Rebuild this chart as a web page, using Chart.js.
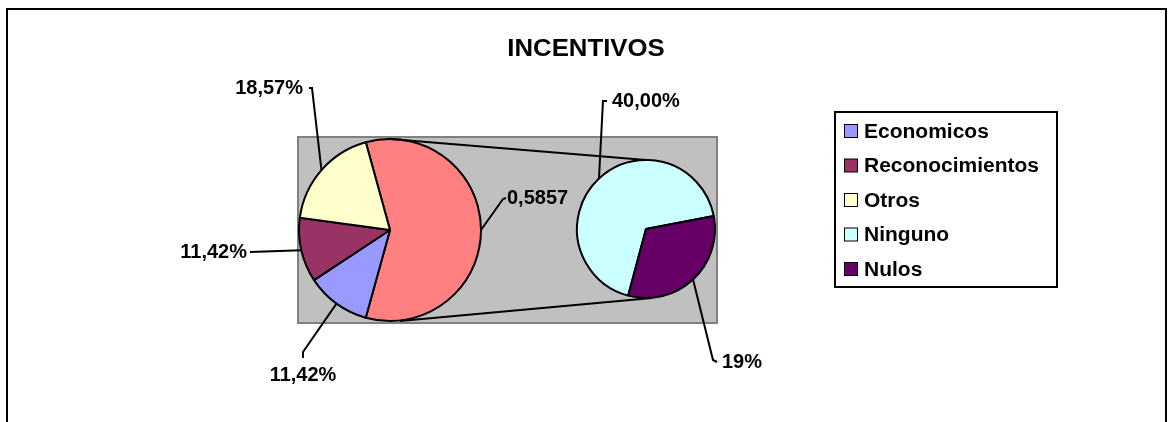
<!DOCTYPE html>
<html>
<head>
<meta charset="utf-8">
<script src="https://cdn.jsdelivr.net/npm/chart.js@4.4.0/dist/chart.umd.min.js"></script>
<style>
  body { margin: 0; background: #fff; }
  #wrap { position: relative; width: 1169px; height: 422px; }
  #wrap canvas { position: absolute; left: 0; top: 0; }
</style>
</head>
<body>
<div id="wrap">
  <canvas id="mainPie" width="1169" height="422"></canvas>
  <canvas id="subPie" width="1169" height="422"></canvas>
</div>
<script>
// data
const chartTitle = 'INCENTIVOS';
const mainCategories = ['Economicos', 'Reconocimientos', 'Otros'];
const mainValues = [0.1142, 0.1142, 0.1857];
const mainLabels = ['11,42%', '11,42%', '18,57%'];
const groupName = 'Resto';
const groupValue = 0.5857;
const groupLabel = '0,5857';
const subCategories = ['Ninguno', 'Nulos'];
const subValues = [0.40, 0.19];
const subLabels = ['40,00%', '19%'];

// colours
const mainColors = ['#9999FF', '#993366', '#FFFFCC'];
const groupColor = '#FF8080';
const subColors = ['#CCFFFF', '#660066'];

const FONT = '"Liberation Sans", Arial, sans-serif';

function txt(ctx, s, x, y, align, size, sx) {
    ctx.save();
    ctx.font = 'bold ' + size + 'px ' + FONT;
    ctx.fillStyle = '#000';
    ctx.textBaseline = 'middle';
    ctx.translate(x, y);
    ctx.scale(sx || 1, 1);
    ctx.textAlign = align;
    ctx.fillText(s, 0, 0);
    ctx.restore();
}

function leader(ctx, pts) {
    ctx.save();
    ctx.strokeStyle = '#000';
    ctx.lineWidth = 2;
    ctx.beginPath();
    ctx.moveTo(pts[0][0], pts[0][1]);
    for (let i = 1; i < pts.length; i++) ctx.lineTo(pts[i][0], pts[i][1]);
    ctx.stroke();
    ctx.restore();
}

// edge point of an arc at its middle angle
function edgeOf(arc) {
    const a = (arc.startAngle + arc.endAngle) / 2;
    return [arc.x + Math.cos(a) * arc.outerRadius, arc.y + Math.sin(a) * arc.outerRadius];
}

// where labels sit: [text x, text y, align, bend x, bend y]
const mainLabelPos = [
    [303, 375, 'center', 303, 352],   // Economicos
    [247, 252, 'right', 250, 252],    // Reconocimientos
    [303, 88, 'right', 312, 88]       // Otros
];
const groupLabelPos = [507, 198, 'left', 503, 199];
const subLabelPos = [
    [612, 101, 'left', 603, 101],     // Ninguno
    [722, 362, 'left', 713, 360]      // Nulos
];

const background = {
    id: 'background',
    beforeDraw(chart) {
        const ctx = chart.ctx;
        ctx.save();
        ctx.fillStyle = '#fff';
        ctx.fillRect(0, 0, chart.width, chart.height);
        // outer frame (open at the bottom)
        ctx.strokeStyle = '#000';
        ctx.lineWidth = 2;
        ctx.beginPath();
        ctx.moveTo(7, 422);
        ctx.lineTo(7, 9);
        ctx.lineTo(1166, 9);
        ctx.lineTo(1166, 422);
        ctx.stroke();
        // grey plot area
        ctx.fillStyle = '#C0C0C0';
        ctx.fillRect(298, 137, 419, 186);
        ctx.strokeStyle = '#808080';
        ctx.lineWidth = 2;
        ctx.strokeRect(298, 137, 419, 186);
        ctx.restore();

        txt(ctx, chartTitle, 586, 50, 'center', 23, 1.12);

        // legend
        const items = mainCategories.concat(subCategories);
        const cols = mainColors.concat(subColors);
        ctx.save();
        ctx.fillStyle = '#fff';
        ctx.fillRect(835, 112, 222, 175);
        ctx.strokeStyle = '#000';
        ctx.lineWidth = 2;
        ctx.strokeRect(835, 112, 222, 175);
        for (let i = 0; i < items.length; i++) {
            const y = 131 + i * 34.5;
            ctx.fillStyle = cols[i];
            ctx.fillRect(844.5, y - 6.5, 13, 13);
            ctx.lineWidth = 1;
            ctx.strokeStyle = '#000';
            ctx.strokeRect(844.5, y - 6.5, 13, 13);
            txt(ctx, items[i], 864, y + 1, 'left', 20, 1.05);
        }
        ctx.restore();
    },
    afterDatasetsDraw(chart) {
        const ctx = chart.ctx;
        const arcs = chart.getDatasetMeta(0).data;
        // arcs[0] is the grouped slice, arcs[1..] the main categories
        let p = edgeOf(arcs[0]);
        let g = groupLabelPos;
        leader(ctx, [p, [g[3], g[4]], [g[3] + 3, g[1]]]);
        txt(ctx, groupLabel, g[0], g[1], g[2], 20, 1.0);
        for (let i = 0; i < mainLabels.length; i++) {
            p = edgeOf(arcs[i + 1]);
            const l = mainLabelPos[i];
            if (l[2] === 'center') {
                leader(ctx, [p, [l[3], l[4]], [l[3], l[4] + 6]]);
            } else if (i === 1) {
                leader(ctx, [p, [l[3], l[4]]]);
            } else {
                leader(ctx, [p, [l[3], l[4]], [l[3] - 3, l[4]]]);
            }
            txt(ctx, mainLabels[i], l[0], l[1], l[2], 20, 1.0);
        }
    }
};

const connectors = {
    id: 'connectors',
    beforeDatasetsDraw(chart) {
        const big = mainChart.getDatasetMeta(0).data[0];
        const small = chart.getDatasetMeta(0).data[0];
        const ctx = chart.ctx;
        ctx.save();
        ctx.strokeStyle = '#000';
        ctx.lineWidth = 2;
        ctx.beginPath();
        ctx.moveTo(big.x, big.y - big.outerRadius);
        ctx.lineTo(small.x, small.y - small.outerRadius);
        ctx.moveTo(big.x + 10, big.y + big.outerRadius);
        ctx.lineTo(small.x + 6, small.y + small.outerRadius);
        ctx.stroke();
        ctx.restore();
    },
    afterDatasetsDraw(chart) {
        const ctx = chart.ctx;
        const arcs = chart.getDatasetMeta(0).data;
        for (let i = 0; i < subLabels.length; i++) {
            const p = edgeOf(arcs[i]);
            const l = subLabelPos[i];
            leader(ctx, [p, [l[3], l[4]], [l[3] + 4, l[1]]]);
            txt(ctx, subLabels[i], l[0], l[1], l[2], 20, 1.0);
        }
    }
};

// the grouped slice is centred on the right, like the spreadsheet does it
const mainRotation = 90 - groupValue * 180;

const mainChart = new Chart(document.getElementById('mainPie'), {
    type: 'pie',
    data: {
        labels: [groupName].concat(mainCategories),
        datasets: [{
            data: [groupValue].concat(mainValues),
            backgroundColor: [groupColor].concat(mainColors),
            borderColor: '#000',
            borderWidth: 2
        }]
    },
    options: {
        responsive: false,
        animation: false,
        rotation: mainRotation,
        radius: 91,
        layout: { padding: { left: 298, right: 687, top: 138, bottom: 100 } },
        plugins: { legend: { display: false }, tooltip: { enabled: false } }
    },
    plugins: [background]
});

const subChart = new Chart(document.getElementById('subPie'), {
    type: 'pie',
    data: {
        labels: subCategories,
        datasets: [{
            data: subValues,
            backgroundColor: subColors,
            borderColor: '#000',
            borderWidth: 2
        }]
    },
    options: {
        responsive: false,
        animation: false,
        rotation: 195,
        radius: 69,
        layout: { padding: { left: 576, right: 453, top: 159, bottom: 123 } },
        plugins: { legend: { display: false }, tooltip: { enabled: false } }
    },
    plugins: [connectors]
});
</script>
</body>
</html>
